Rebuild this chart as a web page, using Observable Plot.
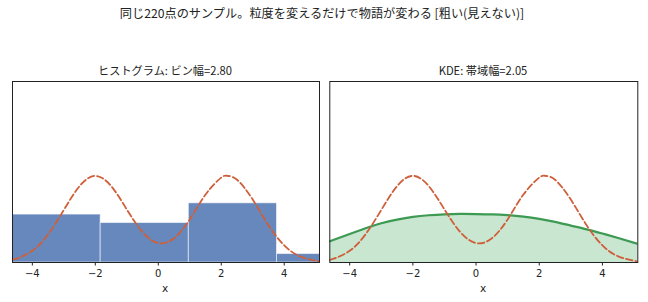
<!DOCTYPE html>
<html>
<head>
<meta charset="utf-8">
<script src="https://cdn.jsdelivr.net/npm/d3@7"></script>
<script src="https://cdn.jsdelivr.net/npm/@observablehq/plot@0.6"></script>
<style>
  html, body { margin: 0; padding: 0; background: #fff; }
  #wrap { position: relative; width: 648px; height: 302px; overflow: hidden; background: #fff; font-family: "Noto Sans CJK JP", "DejaVu Sans", sans-serif; color: #222; }
  .t { position: absolute; white-space: nowrap; transform: translate(-50%, -50%); font-weight: 400; }
  .panel { position: absolute; top: 80px; }
</style>
</head>
<body>
<div id="wrap">
  <div class="t" id="suptitle" style="left:322px; top:13px; font-size:12.2px;">同じ220点のサンプル。粒度を変えるだけで物語が変わる [粗い(見えない)]</div>
  <div class="t" style="left:165px; top:70px; font-size:11.2px;">ヒストグラム: ビン幅=2.80</div>
  <div class="t" style="left:483px; top:70px; font-size:11.2px;">KDE: 帯域幅=2.05</div>
  <div class="t" style="left:165px; top:288px; font-size:10.5px; font-family:'DejaVu Sans';">x</div>
  <div class="t" style="left:483px; top:288px; font-size:10.5px; font-family:'DejaVu Sans';">x</div>
  <div class="panel" id="left" style="left:0px;"></div>
  <div class="panel" id="right" style="left:324px;"></div>
</div>
<script>
// ---- data ----
const nSamples = 220;
const binWidth = 2.80;
const binEdges = [-4.63, -1.83, 0.97, 3.77, 6.57];
const binCounts = [68, 56, 84, 12];

const kdeX = [-4.63, -4, -3.5, -3, -2.5, -2, -1.5, -1, -0.5, 0, 0.5, 1, 1.5, 2, 2.5, 3, 3.5, 4, 4.5, 5.12];
const kdeY = [0.049, 0.0656, 0.0789, 0.0904, 0.0989, 0.1051, 0.1088, 0.1109, 0.1118, 0.1116, 0.1109, 0.1090, 0.1056, 0.1005, 0.0936, 0.0851, 0.0764, 0.0667, 0.0564, 0.043];

const trueX = [-4.63, -4.5, -4, -3.5, -3, -2.5, -2, -1.5, -1, -0.5, 0, 0.5, 1, 1.5, 2, 2.2, 2.5, 3, 3.5, 4, 4.5, 5, 5.12];
const trueY = [0.0063, 0.0088, 0.027, 0.0648, 0.121, 0.176, 0.1995, 0.1763, 0.1222, 0.0700, 0.0448, 0.0558, 0.0993, 0.1566, 0.1956, 0.1995, 0.1907, 0.1449, 0.0857, 0.0395, 0.0142, 0.004, 0.0028];

const xDomain = [-4.63, 5.12];
const yDomain = [0, 0.417];
const xTicks = [-4, -2, 0, 2, 4];

// ---- tables ----
const bins = binCounts.map((c, i) => ({x1: binEdges[i], x2: binEdges[i + 1], density: c / (nSamples * binWidth)}));
const kde = kdeX.map((x, i) => ({x, y: kdeY[i]}));
const truth = trueX.map((x, i) => ({x, y: trueY[i]}));

const dashColor = "#cf5f3a";
const common = {
  height: 222, marginTop: 1, marginBottom: 40,
  style: {fontFamily: "DejaVu Sans", fontSize: "10px", color: "#222", background: "transparent", overflow: "visible"},
  x: {domain: xDomain, ticks: xTicks, label: null, tickSize: 3.5, tickPadding: 4},
  y: {domain: yDomain, axis: null}
};

const left = Plot.plot({
  ...common,
  width: 324, marginLeft: 12, marginRight: 5,
  marks: [
    Plot.rectY(bins, {x1: "x1", x2: "x2", y: "density", fill: "#6788bc", stroke: "#ffffff", strokeOpacity: 0.55, strokeWidth: 1, insetLeft: 0, insetRight: 0, clip: true}),
    Plot.line(truth, {x: "x", y: "y", stroke: dashColor, strokeWidth: 1.8, strokeDasharray: "6.5,3", curve: "natural", clip: true}),
    Plot.frame({stroke: "#222", strokeWidth: 1})
  ]
});

const right = Plot.plot({
  ...common,
  width: 324, marginLeft: 5.3, marginRight: 10.7,
  marks: [
    Plot.areaY(kde, {x: "x", y: "y", fill: "#c9e6d0", curve: "natural", clip: true}),
    Plot.line(kde, {x: "x", y: "y", stroke: "#3d9a52", strokeWidth: 2.2, curve: "natural", clip: true}),
    Plot.line(truth, {x: "x", y: "y", stroke: dashColor, strokeWidth: 1.8, strokeDasharray: "6.5,3", curve: "natural", clip: true}),
    Plot.frame({stroke: "#222", strokeWidth: 1})
  ]
});

document.getElementById("left").appendChild(left);
document.getElementById("right").appendChild(right);
</script>
</body>
</html>
